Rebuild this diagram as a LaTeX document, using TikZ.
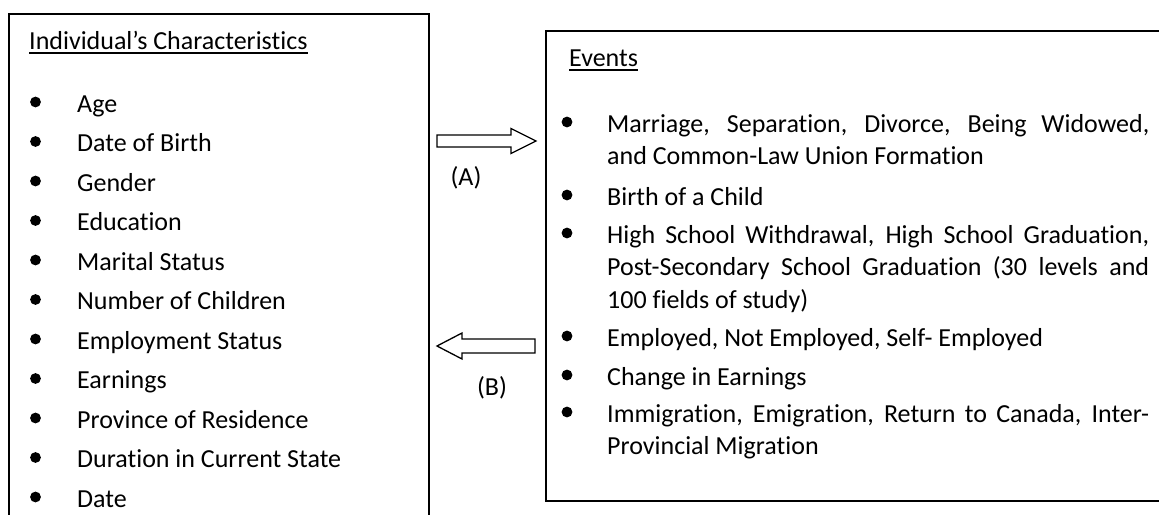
\documentclass[tikz,border=0pt]{standalone}
\usepackage{fontspec}
\setmainfont{Carlito}[Ligatures={NoCommon}]
\newcommand\bigtext{\fontsize{26}{32.5}\selectfont}

\begin{document}
\begin{tikzpicture}[x=1pt,y=-1pt,
	box/.style={draw=black,line width=1.8pt,inner sep=0pt,anchor=north west},
	ttl/.style={anchor=base west,inner sep=0pt,font=\bigtext},
	itm/.style={anchor=base west,inner sep=0pt,font=\bigtext},
	ev/.style={anchor=base west,inner sep=0pt,font=\bigtext,text width=542pt,align=justify},
	lbl/.style={inner sep=0pt,font=\bigtext},
	uline/.style={line width=1.5pt},
	bigarrow/.style={draw=black,line width=1.3pt,fill=white}]
	\useasboundingbox (0,0) rectangle (1159,514);
	\clip (0,0) rectangle (1159,514);

	% the two boxes (both run past the page edge)
	\node[box,minimum width=420pt,minimum height=540pt] (chars) at (8,13) {};
	\node[box,minimum width=700pt,minimum height=470pt] (events) at (545,30) {};

	% left box
	\node[ttl] (charttl) at (29,49) {Individual’s Characteristics};
	\draw[uline] ([yshift=-4pt]charttl.base west) -- ([yshift=-4pt]charttl.base east);
	\node[itm] (age) at (77,112) {Age};
	\node[itm] (dob) at (77,151.5) {Date of Birth};
	\node[itm] (gender) at (77,191) {Gender};
	\node[itm] (educ) at (77,230.5) {Education};
	\node[itm] (marital) at (77,270) {Marital Status};
	\node[itm] (kids) at (77,309.5) {Number of Children};
	\node[itm] (empst) at (77,349) {Employment Status};
	\node[itm] (earnst) at (77,388.5) {Earnings};
	\node[itm] (prov) at (77,428) {Province of Residence};
	\node[itm] (dur) at (77,467.5) {Duration in Current State};
	\node[itm] (date) at (77,507) {Date};
	\foreach \n in {age,dob,gender,educ,marital,kids,empst,earnst,prov,dur,date}
		\fill ([xshift=-41.5pt,yshift=10pt]\n.base west) circle (5.4pt);

	% right box
	\node[ttl] (evttl) at (569,66) {Events};
	\draw[uline] ([yshift=-4pt]evttl.base west) -- ([yshift=-4pt]evttl.base east);
	\node[ev] (marr) at (607,132) {Marriage, Separation, Divorce, Being Widowed,\linebreak and Common-Law Union Formation};
	\node[ev] (birth) at (607,205) {Birth of a Child};
	\node[ev] (school) at (607,243) {High School Withdrawal, High School Graduation,\linebreak Post-Secondary School Graduation (30 levels and\linebreak 100 fields of study)};
	\node[ev] (emp) at (607,346) {Employed, Not Employed, Self- Employed};
	\node[ev] (earn) at (607,385) {Change in Earnings};
	\node[ev] (migr) at (607,422) {Immigration, Emigration, Return to Canada, Inter-\linebreak Provincial Migration};
	\foreach \n in {marr,birth,school,emp,earn,migr}
		\fill ([xshift=-40pt,yshift=10pt]\n.base west) circle (5.4pt);

	% arrows between the boxes
	\draw[bigarrow] (437,135) -- (511,135) -- (511,128.5) -- (536,141) -- (511,153.5) -- (511,147) -- (437,147) -- cycle;
	\node[lbl] (la) at (466,178) {(A)};
	\draw[bigarrow] (535,339) -- (462,339) -- (462,333) -- (437,346) -- (462,359) -- (462,353) -- (535,353) -- cycle;
	\node[lbl] (lb) at (492,388) {(B)};
\end{tikzpicture}
\end{document}
